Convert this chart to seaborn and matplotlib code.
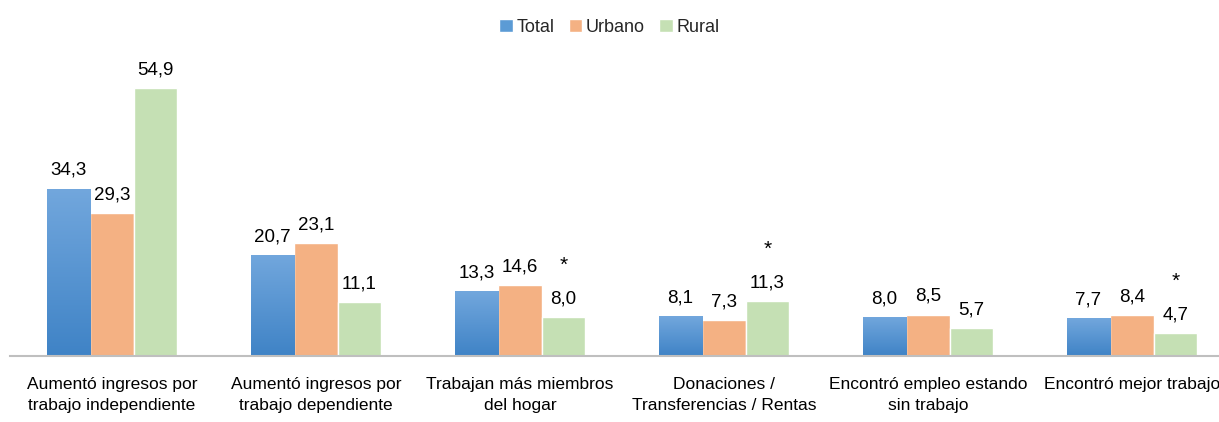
import numpy as np
import pandas as pd
import matplotlib
matplotlib.use("Agg")
import matplotlib.pyplot as plt
import seaborn as sns

# Data
categorias = [
    "Aumentó ingresos por\ntrabajo independiente",
    "Aumentó ingresos por\ntrabajo dependiente",
    "Trabajan más miembros\ndel hogar",
    "Donaciones /\nTransferencias / Rentas",
    "Encontró empleo estando\nsin trabajo",
    "Encontró mejor trabajo",
]
series = ["Total", "Urbano", "Rural"]
total = [34.3, 20.7, 13.3, 8.1, 8.0, 7.7]
urbano = [29.3, 23.1, 14.6, 7.3, 8.5, 8.4]
rural = [54.9, 11.1, 8.0, 11.3, 5.7, 4.7]
asterisco_rural = [False, False, True, True, False, True]

colores = ["#5b9bd5", "#f4b183", "#c5e0b4"]

df = pd.DataFrame({
    "categoria": categorias * 3,
    "serie": np.repeat(series, len(categorias)),
    "valor": total + urbano + rural,
})

sns.set_style("white")
plt.rcParams["font.family"] = ["Liberation Sans", "DejaVu Sans"]

fig = plt.figure(figsize=(12.19, 4.22), dpi=100)
ax = fig.add_axes([10 / 1219, 66 / 422, 1 - 10 / 1219, 356 / 422])

sns.barplot(data=df, x="categoria", y="valor", hue="serie", palette=colores,
            saturation=1, width=0.64, edgecolor="white", linewidth=1, ax=ax)

# gradient on the Total bars
grad = np.linspace(0, 1, 256).reshape(-1, 1)
cmap_blue = matplotlib.colors.LinearSegmentedColormap.from_list("b", ["#3f83c6", "#72a7dd"])
for bar in ax.containers[0]:
    x0, y0 = bar.get_x(), bar.get_y()
    w, h = bar.get_width(), bar.get_height()
    im = ax.imshow(grad, cmap=cmap_blue, aspect="auto", origin="lower",
                   extent=[x0, x0 + w, y0, y0 + h], zorder=bar.get_zorder() + 0.1)
    im.set_clip_path(bar)

ax.set_xlim(-0.5, -0.5 + 1209 / 204)
ax.set_ylim(0, 356 / 4.88)

# value labels
for cont in ax.containers:
    etiquetas = [f"{b.get_height():.1f}".replace(".", ",") for b in cont]
    ax.bar_label(cont, labels=etiquetas, padding=7, fontsize=13.5, color="#000000")

for bar, marca in zip(ax.containers[2], asterisco_rural):
    if marca:
        ax.annotate("*", (bar.get_x() + bar.get_width() / 2, bar.get_height()),
                    xytext=(0, 33), textcoords="offset points",
                    ha="center", va="baseline", fontsize=15, color="#000000")

ax.set_xlabel("")
ax.set_ylabel("")
ax.set_yticks([])
ax.tick_params(axis="x", length=0, pad=15, labelsize=12.5, labelcolor="#000000")
for t in ax.get_xticklabels():
    t.set_linespacing(1.5)

for s in ["top", "right", "left"]:
    ax.spines[s].set_visible(False)
ax.spines["bottom"].set_color("#bfbfbf")
ax.spines["bottom"].set_linewidth(1.5)

handles, labels = ax.get_legend_handles_labels()
ax.get_legend().remove()
fig.legend(handles, labels, loc="center", bbox_to_anchor=(0.5, 1 - 27 / 422), ncol=3,
           frameon=False, fontsize=13, handlelength=0.75, handleheight=0.75,
           handletextpad=0.2, columnspacing=0.8)

plt.savefig("out.png", dpi=100)
